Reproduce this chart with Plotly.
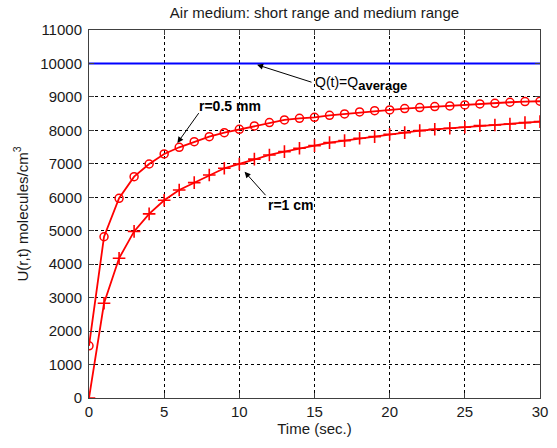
import plotly.graph_objects as go

t = list(range(0, 31))
r_half_mm = [1560, 4820, 5970, 6616, 6995, 7294, 7494, 7662, 7812, 7932, 8032,
             8132, 8232, 8311, 8361, 8391, 8451, 8490, 8550, 8590, 8610,
             8650, 8680, 8710, 8730, 8760, 8790, 8810, 8840, 8860, 8870]
r_1_cm = [0, 2830, 4176, 4980, 5505, 5910, 6218, 6437, 6667, 6866, 6995,
          7140, 7265, 7365, 7464, 7544, 7634, 7693, 7764, 7812, 7883,
          7932, 7991, 8032, 8062, 8092, 8142, 8162, 8192, 8232, 8261]
q_average = 10000

x_ticks = [0, 5, 10, 15, 20, 25, 30]
y_ticks = list(range(0, 11001, 1000))

FONT = "Liberation Sans, Arial, sans-serif"
TXT = "#1a1a1a"

fig = go.Figure()
fig.add_trace(go.Scatter(x=[0, 30], y=[q_average, q_average], mode="lines",
                         line=dict(color="#0000ff", width=2), showlegend=False))
fig.add_trace(go.Scatter(x=t, y=r_half_mm, mode="lines+markers",
                         line=dict(color="#ff0000", width=1.8),
                         marker=dict(symbol="circle-open", size=8, color="#ff0000",
                                     line=dict(width=1.5, color="#ff0000")),
                         showlegend=False))
fig.add_trace(go.Scatter(x=t, y=r_1_cm, mode="lines+markers",
                         line=dict(color="#ff0000", width=1.8),
                         marker=dict(symbol="cross-thin-open", size=9, color="#ff0000",
                                     line=dict(width=1.6, color="#ff0000")),
                         showlegend=False))

arrows = [
    (11.18, 9960, 14.9, 9426),
    (5.88, 7623, 7.37, 8560),
    (10.35, 6765, 11.83, 6018),
]
for hx, hy, tx, ty in arrows:
    fig.add_annotation(x=hx, y=hy, ax=tx, ay=ty, xref="x", yref="y",
                       axref="x", ayref="y", text="", showarrow=True,
                       arrowhead=2, arrowsize=1.2, arrowwidth=1, arrowcolor="#000000")

labels = [
    (14.9, 9400, "Q(t)=Q<sub><span style='font-size:13px'><b>average</b></span></sub>"),
    (7.2, 8730, "<b>r=0.5 mm</b>"),
    (11.76, 5770, "<b>r=1 cm</b>"),
]
for lx, ly, txt in labels:
    fig.add_annotation(x=lx, y=ly, xref="x", yref="y", text=txt, showarrow=False,
                       xanchor="left", yanchor="middle",
                       font=dict(family=FONT, size=14, color="#000000"))

axis_common = dict(showline=True, linecolor="#404040", linewidth=1, mirror="ticks",
                   ticks="inside", ticklen=5, tickcolor="#404040",
                   showgrid=True, gridcolor="#000000", gridwidth=1, griddash="3px,3px",
                   zeroline=False, tickfont=dict(family=FONT, size=15, color=TXT))

fig.update_xaxes(range=[0, 30], tickvals=x_ticks, ticktext=[str(v) for v in x_ticks],
                 title=dict(text="Time (sec.)", font=dict(family=FONT, size=15, color=TXT),
                            standoff=4),
                 **axis_common)
fig.update_yaxes(range=[0, 11000], tickvals=y_ticks, ticktext=[str(v) for v in y_ticks],
                 title=dict(text="U(r,t) molecules/cm<sup>3</sup>",
                            font=dict(family=FONT, size=15, color=TXT), standoff=8),
                 ticklabelstandoff=3,
                 **axis_common)

fig.update_layout(
    width=557, height=448,
    margin=dict(l=89, r=9, t=30, b=50),
    paper_bgcolor="#ffffff", plot_bgcolor="#ffffff",
    title=dict(text="Air medium: short range and medium range", x=0.5, xanchor="center",
               xref="paper", y=1 - 13 / 448, yanchor="middle",
               font=dict(family=FONT, size=15, color=TXT)),
)

fig.write_html("out.html")
